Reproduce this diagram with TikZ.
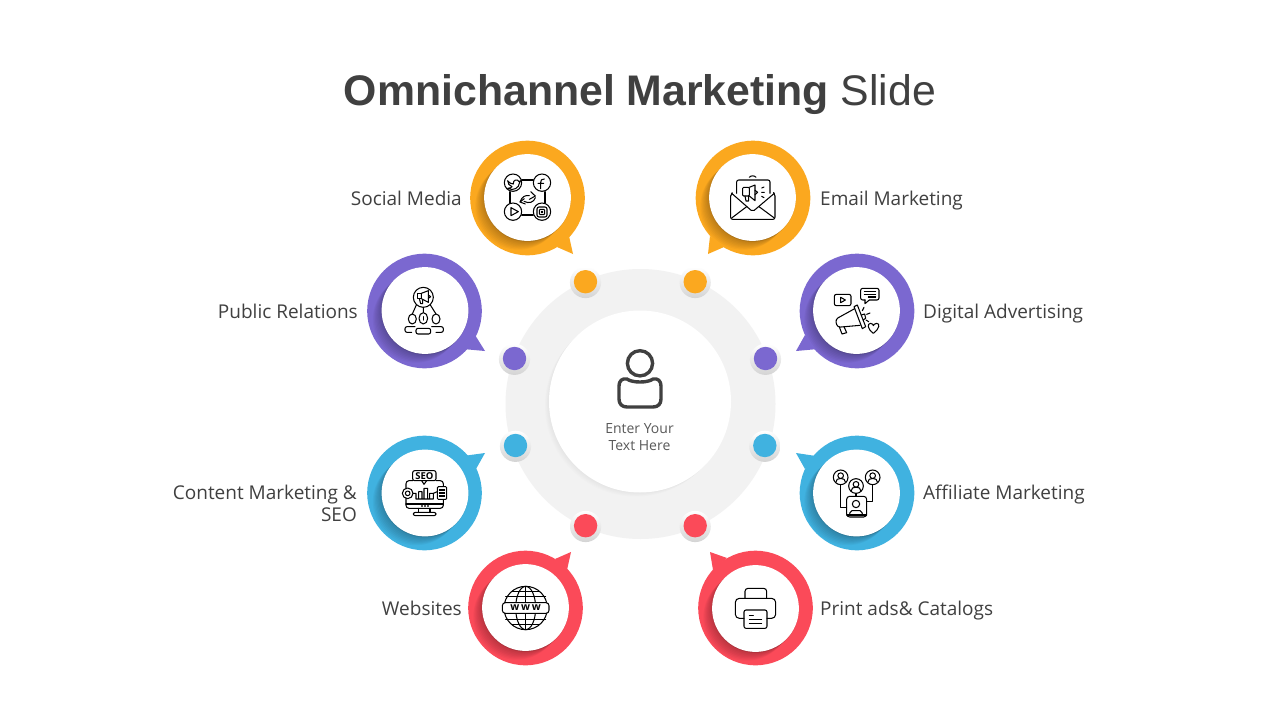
\documentclass[tikz,border=0pt]{standalone}
\usepackage{fontspec}
\setmainfont{Open Sans}
\newfontfamily\titlefont{Liberation Sans}
\definecolor{cOrange}{HTML}{FBA81F}
\definecolor{cPurple}{HTML}{7B68D0}
\definecolor{cBlue}{HTML}{40B2E0}
\definecolor{cRed}{HTML}{FB4A59}
\definecolor{cText}{HTML}{404040}
\definecolor{cRing}{HTML}{F2F2F2}
\tikzset{
  ic/.style={draw=black,line width=1.05pt,line cap=round,line join=round},
  lab/.style={text=cText,font=\fontsize{19}{22}\selectfont,inner sep=0pt},
}
% #1 colour, #2,#3 ring centre, #4,#5 white centre, #6 tail path
\newcommand\bubble[6]{%
  \fill[#1] (#2,#3) circle (57.3);
  \fill[#1] #6 -- cycle;
  \begin{scope}
    \clip (#2,#3) circle (57.3);
    \foreach \j in {1,...,8}{
      \fill[black,opacity=0.03] (#4-\j*1.1,#5+\j*1.1) circle (43.4);
    }
  \end{scope}
  \fill[black,opacity=0.10] (#4,#5+0.8) circle (43.4);
  \fill[white] (#4,#5) circle (43.4);
}
% #1 colour, #2,#3 centre
\newcommand\dotmark[3]{%
  \shade[top color=white,bottom color=black!17] (#2,#3+0.8) circle (15.6);
  \fill[#1] (#2,#3) circle (11.7);
}
\begin{document}
\begin{tikzpicture}[x=1pt,y=-1pt]
\useasboundingbox (0,0) rectangle (1280,720);
\fill[white] (0,0) rectangle (1280,720);

% title
\node[anchor=base,inner sep=0pt,text=cText,font=\titlefont\fontsize{42.8}{50}\selectfont] (title) at (640,105) {\textbf{Omnichannel Marketing} Slide};

% central ring
\fill[cRing] (640.5,404) circle (135);
\foreach \j in {1,...,6}{
  \fill[black,opacity=0.006] (640-\j*0.7,401.5+\j*0.7) circle (91);
}
\fill[white] (640,401.5) circle (91);

% central person
\draw[draw=cText,line width=3.4pt] (640,363.3) circle (12.6);
\draw[draw=cText,line width=3.4pt,line join=round]
  (627,379) .. controls (632,383) and (648,383) .. (653,379)
  .. controls (658,378) and (661,381) .. (661,386) -- (661,399)
  .. controls (661,404) and (658,407) .. (653,407) -- (627,407)
  .. controls (622,407) and (619,404) .. (619,399) -- (619,386)
  .. controls (619,381) and (622,378) .. (627,379) -- cycle;
\node[align=center,inner sep=0pt,text=black!65,font=\fontsize{14}{17}\selectfont] (centre) at (639.5,437.2) {Enter Your\\ Text Here};

% bubbles
\bubble{cOrange}{527.5}{198}{527.5}{197.5}{(557,247) -- (573,254) -- (569,236)}
\bubble{cOrange}{753}{198}{752.5}{197.5}{(724,247) -- (708,254) -- (710,236)}
\bubble{cPurple}{424.5}{311}{425}{310.5}{(463,349) -- (485,351) -- (475,335)}
\bubble{cPurple}{857}{311}{856.5}{310.5}{(818,349) -- (796,351) -- (805,335)}
\bubble{cBlue}{424.5}{493}{425}{493}{(463,456) -- (485,453) -- (476,469)}
\bubble{cBlue}{857}{493}{856.5}{493}{(816,456) -- (796,453) -- (805,469)}
\bubble{cRed}{525.5}{608}{525.5}{607.5}{(555,559) -- (571,552) -- (567,570)}
\bubble{cRed}{755.5}{608}{755.5}{608.5}{(727,558) -- (710,552) -- (713,570)}

% dots
\dotmark{cOrange}{585.5}{281.7}
\dotmark{cOrange}{695.2}{281.7}
\dotmark{cPurple}{514.5}{358.5}
\dotmark{cPurple}{765.5}{358.5}
\dotmark{cBlue}{515.5}{445.5}
\dotmark{cBlue}{764.8}{445.5}
\dotmark{cRed}{585.6}{525.7}
\dotmark{cRed}{695.2}{525.7}

% labels
\node[lab,anchor=base east] (l1) at (462,205) {Social Media};
\node[lab,anchor=base east] (l2) at (358,318) {Public Relations};
\node[lab,anchor=east,align=right] (l3) at (357,503) {Content Marketing \&\\ SEO};
\node[lab,anchor=base east] (l4) at (462,615) {Websites};
\node[lab,anchor=base west] (r1) at (820,205) {Email Marketing};
\node[lab,anchor=base west] (r2) at (923,318) {Digital Advertising};
\node[lab,anchor=base west] (r3) at (923,499) {Affiliate Marketing};
\node[lab,anchor=base west] (r4) at (820,615) {Print ads\& Catalogs};

% --- icons: coordinates are those of 3x crops
% social media
\begin{scope}[shift={(460,130)},scale=1/3]
  \draw[ic] (159,158) circle (26) (246,158) circle (26) (159,245) circle (26) (246,245) circle (26);
  \draw[ic] (185,150) -- (220,150) (185,255) -- (220,255) (150,185) -- (150,219) (255,185) -- (255,219);
  \draw[ic] (143,152) .. controls (150,160) and (155,162) .. (160,162) .. controls (158,150) and (172,145) .. (177,155) -- (182,152) -- (178,160) .. controls (178,172) and (160,185) .. (143,175) .. controls (150,175) and (155,172) .. (156,170) .. controls (148,168) and (143,160) .. (143,152);
  \draw[ic] (253,147) .. controls (244,145) and (242,152) .. (242,158) -- (242,176) (234,160) -- (251,160);
  \draw[ic] (153,233) -- (175,245) -- (153,257) -- cycle;
  \draw[ic,rounded corners=2pt] (231,231) rectangle (261,261);
  \draw[ic,rounded corners=1pt] (238,238) rectangle (254,254);
  \draw[ic] (246,246) circle (2.5);
  \draw[ic] (180,216) .. controls (186,198) and (198,195) .. (208,197) (212,185) -- (226,198) -- (208,208);
  \draw[ic] (226,203) .. controls (222,217) and (206,222) .. (192,214) (180,216) -- (193,206) (180,216) -- (196,222);
\end{scope}
% email marketing
\begin{scope}[shift={(460,130)},scale=1/3]
  \draw[ic,rounded corners=2pt] (830,190) -- (830,150) -- (930,150) -- (930,190);
  \draw[ic] (868,142) .. controls (872,136) and (884,136) .. (888,142);
  \draw[ic,rounded corners=2pt] (815,190) -- (812,192) -- (812,268) -- (945,268) -- (945,192) -- (943,190);
  \draw[ic,rounded corners=2pt] (815,190) -- (878,245) -- (943,190);
  \draw[ic] (815,264) -- (860,230) (943,264) -- (897,230);
  \draw[ic,rounded corners=1pt] (868,172) -- (848,172) -- (848,198) -- (868,198) -- cycle;
  \draw[ic] (868,172) -- (885,165) -- (885,212) -- (868,198);
  \draw[ic] (855,198) -- (858,213) -- (866,213) -- (866,198);
  \draw[ic] (885,181) -- (893,187) -- (885,194);
  \draw[ic] (905,174) -- (912,171) (905,187) -- (913,187) (905,199) -- (912,203);
\end{scope}
% public relations
\begin{scope}[shift={(360,250)},scale=1/3]
  \draw[ic] (190,142) circle (30);
  \draw[ic] (172,130) -- (184,130) -- (184,146) -- (172,146) -- cycle;
  \draw[ic] (184,130) -- (205,122) -- (205,157) -- (184,146) -- cycle;
  \draw[ic] (178,146) -- (182,161) -- (188,161) -- (188,149) (205,135) -- (212,140) -- (205,145);
  \draw[ic] (190,172) -- (190,187) (169,165) -- (157,192) (211,165) -- (228,192);
  \draw[ic] (157,207) ellipse (12 and 15) (190,205) ellipse (13 and 17) (228,207) ellipse (12 and 15);
  \draw[ic] (190,200) -- (190,210);
  \draw[ic,rounded corners=2pt] (155,247) -- (135,247) -- (135,230) -- (165,230);
  \draw[ic,rounded corners=2pt] (168,252) -- (168,235) -- (212,235) -- (212,252) -- cycle;
  \draw[ic,rounded corners=2pt] (215,230) -- (250,230) -- (250,247) -- (228,247);
\end{scope}
% digital advertising
\begin{scope}[shift={(750,250)},scale=1/3]
  \draw[ic,rounded corners=2pt] (253,133) rectangle (303,167);
  \draw[ic] (272,142) -- (286,150) -- (272,158) -- cycle;
  \draw[ic,rounded corners=2pt] (345,150) -- (332,150) -- (332,115) -- (387,115) -- (387,150) -- (358,150);
  \draw[ic] (345,150) -- (345,161) -- (358,150);
  \draw[ic] (343,125) -- (377,125) (343,133) -- (377,133) (355,141) -- (377,141);
  \draw[ic] (312,170) -- (322,165) -- (347,230) -- (337,236) -- cycle;
  \draw[ic,rounded corners=3pt] (314,176) -- (256,208) -- (262,232) -- (330,226);
  \draw[ic] (268,231) -- (276,252) -- (290,248) -- (282,230);
  \draw[ic] (334,195) -- (344,192) -- (347,205) -- (339,210);
  \draw[ic] (337,182) -- (342,172) (350,193) -- (360,189) (348,210) -- (356,215);
  \draw[ic] (370,250) .. controls (350,235) and (352,220) .. (362,220) .. controls (367,220) and (370,225) .. (370,227) .. controls (370,225) and (375,220) .. (380,220) .. controls (390,220) and (390,235) .. (370,250) -- cycle;
\end{scope}
% content marketing and SEO
\begin{scope}[shift={(360,430)},scale=1/3]
  \draw[ic,rounded corners=3pt] (138,175) -- (138,152) -- (158,152) (228,152) -- (250,152) -- (250,170) (250,208) -- (250,235) -- (138,235) -- (138,205);
  \draw[ic,rounded corners=2pt,fill=white] (158,122) rectangle (228,152);
  \draw[ic] (185,152) -- (192,163) -- (200,152);
  \node[inner sep=0pt,font=\bfseries\fontsize{9.5}{10}\selectfont,text=black] (seotxt) at (193,137.5) {SEO};
  \draw[ic] (143,190) circle (16) (143,190) circle (7);
  \draw[ic] (159,190) -- (168,190) -- (168,207) (176,207) -- (176,185) -- (186,185) -- (186,207) (192,207) -- (192,175) -- (203,175) -- (203,207) (209,207) -- (209,190) -- (220,190) -- (220,207) -- (168,207) (220,190) -- (232,185);
  \draw[ic,fill=white,rounded corners=1pt] (232,170) rectangle (260,208);
  \draw[ic] (238,180) -- (254,180) (238,189) -- (254,189) (238,198) -- (254,198);
  \draw[ic] (138,222) -- (250,222) (185,228) -- (187,228) (194,228) -- (196,228) (203,228) -- (205,228);
  \draw[ic] (175,235) -- (175,247) (210,235) -- (210,247);
  \draw[ic,rounded corners=2pt] (160,257) -- (160,247) -- (228,247) -- (228,257) -- cycle;
\end{scope}
% affiliate marketing
\begin{scope}[shift={(750,430)},scale=1/3]
  \foreach \px/\py in {272/142,368/142,318/168}{
    \draw[ic] (\px,\py) circle (22);
    \draw[ic] (\px,\py-5) circle (8.5);
    \draw[ic] (\px-14,\py+14) .. controls (\px-14,\py+6) and (\px-8,\py+4) .. (\px-3,\py+4) -- (\px+3,\py+4) .. controls (\px+8,\py+4) and (\px+14,\py+6) .. (\px+14,\py+14);
  }
  \draw[ic] (272,164) -- (272,232) -- (290,232) (368,164) -- (368,215) -- (350,215) (318,190) -- (318,199);
  \draw[ic,rounded corners=3pt] (290,199) rectangle (350,261);
  \draw[ic] (318,222) circle (11);
  \draw[ic,rounded corners=2pt] (299,255) -- (300,242) -- (336,242) -- (337,255);
  \draw[ic] (290,255) -- (350,255);
\end{scope}
% websites
\begin{scope}[shift={(460,510)},scale=1/3]
  \draw[ic] (197,294) ellipse (30 and 65);
  \draw[ic] (197,229) -- (197,278) (197,310) -- (197,359);
  \draw[ic] (155,244) -- (239,244) (137,260) -- (257,260) (137,328) -- (257,328) (155,344) -- (239,344);
  \draw[ic] (197,294) circle (65);
  \draw[ic,fill=white,rounded corners=3pt] (127,278) rectangle (267,310);
  \node[inner sep=0pt,font=\bfseries\fontsize{10.5}{11}\selectfont,text=black] (wwwtxt) at (197,292) {w\,w\,w};
\end{scope}
% print ads
\begin{scope}[shift={(460,510)},scale=1/3]
  \draw[ic,rounded corners=3pt] (855,265) -- (855,235) -- (920,235) -- (920,265);
  \draw[ic,rounded corners=4pt] (852,325) -- (826,325) -- (826,265) -- (947,265) -- (947,325) -- (921,325);
  \draw[ic,rounded corners=2pt] (852,300) rectangle (921,355);
  \draw[ic] (868,317) -- (880,317) (868,328) -- (905,328) (868,340) -- (905,340);
\end{scope}
\end{tikzpicture}
\end{document}
